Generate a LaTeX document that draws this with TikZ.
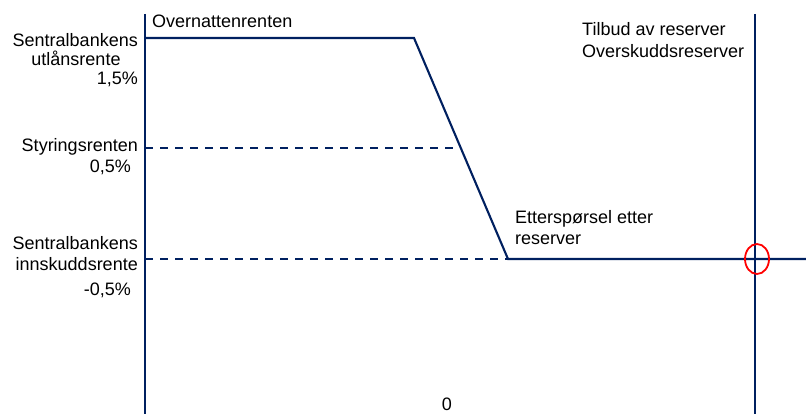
\documentclass[tikz,border=0pt]{standalone}
\usepackage{fontspec}
\setmainfont{Liberation Sans}
\usetikzlibrary{shapes.geometric}
\begin{document}
\begin{tikzpicture}[x=1pt,y=-1pt,
  curve/.style={draw=navy,line width=2.1pt},
  axis/.style={draw=navy,line width=2.5pt},
  level/.style={draw=navy,line width=2pt,dash pattern=on 8pt off 7pt},
  lbl/.style={inner sep=0pt,font=\fontsize{18}{21}\selectfont}]
\definecolor{navy}{RGB}{0,32,96}
\useasboundingbox[fill=white] (0,0) rectangle (806,414);

% axes and key points
\coordinate (ytop) at (145,14);
\coordinate (ybot) at (145,414);
\coordinate (stop) at (755,14);
\coordinate (sbot) at (755,414);
\coordinate (lend) at (145,38);
\coordinate (kink1) at (414,38);
\coordinate (kink2) at (508,259);
\coordinate (mid) at (145,148);
\coordinate (midend) at (460.8,148);
\coordinate (low) at (145,259);
\coordinate (rend) at (806,259);

\draw[axis] (ytop) -- (ybot);
\draw[curve] (stop) -- (sbot);

% policy-rate levels
\draw[level] (mid) -- (midend);
\draw[level] (low) -- (kink2);

% demand for reserves
\draw[curve] (lend) -- (kink1) -- (kink2) -- (rend);

% marker at the intersection
\node[draw=red,line width=1.8pt,ellipse,minimum width=24pt,minimum height=30pt,inner sep=0pt] (mark) at (757,259) {};

% labels
\node[lbl,anchor=base west] (on) at (152,28) {Overnattenrenten};
\node[lbl,anchor=base east] (u1) at (138,47) {Sentralbankens};
\node[lbl,anchor=base] (u2) at (76,66) {utlånsrente};
\node[lbl,anchor=base east] (u3) at (138,85) {1,5\%};
\node[lbl,anchor=base east] (s1) at (138,152) {Styringsrenten};
\node[lbl,anchor=base east] (s2) at (131,173) {0,5\%};
\node[lbl,anchor=base east] (i1) at (138,250) {Sentralbankens};
\node[lbl,anchor=base east] (i2) at (138,270) {innskuddsrente};
\node[lbl,anchor=base east] (i3) at (131,295) {-0,5\%};
\node[lbl,anchor=base west] (d1) at (515,224) {Etterspørsel etter};
\node[lbl,anchor=base west] (d2) at (515,245) {reserver};
\node[lbl,anchor=base west] (t1) at (582,36) {Tilbud av reserver};
\node[lbl,anchor=base west] (t2) at (582,58) {Overskuddsreserver};
\node[lbl,anchor=base] (zero) at (447,410) {0};
\end{tikzpicture}
\end{document}
